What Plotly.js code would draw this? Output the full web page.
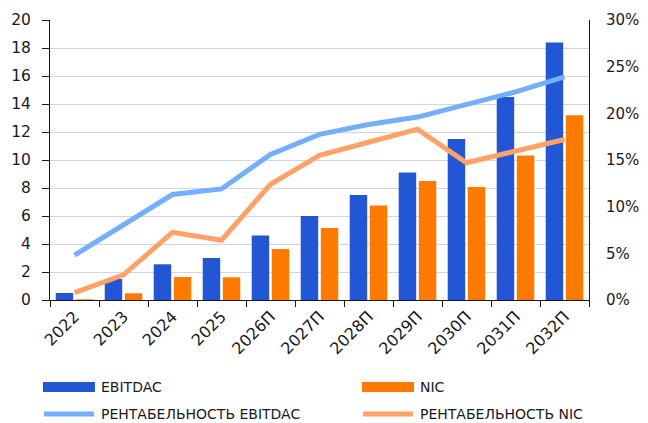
<!DOCTYPE html>
<html>
<head>
<meta charset="utf-8">
<script src="https://cdn.plot.ly/plotly-3.0.1.min.js"></script>
<style>
  html, body { margin: 0; padding: 0; background: #fff; }
  #chart { width: 648px; height: 423px; }
</style>
</head>
<body>
<div id="chart"></div>
<script>
// Years (П = прогноз)
const years = ['2022', '2023', '2024', '2025', '2026П', '2027П', '2028П', '2029П', '2030П', '2031П', '2032П'];

// EBITDAC and NIC, left axis
const ebitdac = [0.5, 1.5, 2.55, 3.0, 4.6, 6.0, 7.5, 9.1, 11.5, 14.5, 18.4];
const nic = [0.05, 0.48, 1.64, 1.62, 3.64, 5.15, 6.75, 8.5, 8.07, 10.33, 13.2];

// Margins, right axis (share)
const marginEbitdac = [0.048, 0.080, 0.113, 0.119, 0.156, 0.1775, 0.188, 0.196, 0.209, 0.223, 0.239];
const marginNic = [0.008, 0.027, 0.0725, 0.064, 0.124, 0.155, 0.169, 0.183, 0.147, 0.159, 0.172];

const legendLabels = ['EBITDAC', 'NIC', 'РЕНТАБЕЛЬНОСТЬ EBITDAC', 'РЕНТАБЕЛЬНОСТЬ NIC'];

const BLUE = '#2356D4';
const ORANGE = '#FF7A00';
const LIGHT_BLUE = '#72B0FF';
const LIGHT_ORANGE = '#FFA267';
const FONT = '"DejaVu Sans", sans-serif';
const INK = '#1a1a1a';

const traces = [
  { type: 'bar', name: legendLabels[0], x: years, y: ebitdac, marker: { color: BLUE }, yaxis: 'y' },
  { type: 'bar', name: legendLabels[1], x: years, y: nic, marker: { color: ORANGE }, yaxis: 'y' },
  { type: 'scatter', mode: 'lines', name: legendLabels[2], x: years, y: marginEbitdac, yaxis: 'y2',
    line: { color: LIGHT_BLUE, width: 5 } },
  { type: 'scatter', mode: 'lines', name: legendLabels[3], x: years, y: marginNic, yaxis: 'y2',
    line: { color: LIGHT_ORANGE, width: 5 } }
];

// Hand-placed legend in two columns, in paper coordinates
const plotL = 50, plotR = 589, plotT = 20, plotB = 300;
const px = v => (v - plotL) / (plotR - plotL);
const py = v => (plotB - v) / (plotB - plotT);

const legendItems = [
  { label: legendLabels[0], color: BLUE, kind: 'rect', x: 43, y: 387 },
  { label: legendLabels[1], color: ORANGE, kind: 'rect', x: 362, y: 387 },
  { label: legendLabels[2], color: LIGHT_BLUE, kind: 'line', x: 43, y: 414 },
  { label: legendLabels[3], color: LIGHT_ORANGE, kind: 'line', x: 362, y: 414 }
];

const shapes = [];
const annotations = [];
legendItems.forEach(it => {
  if (it.kind === 'rect') {
    shapes.push({ type: 'rect', xref: 'paper', yref: 'paper',
      x0: px(it.x), x1: px(it.x + 52), y0: py(it.y + 5), y1: py(it.y - 5),
      fillcolor: it.color, line: { width: 0 } });
  } else {
    shapes.push({ type: 'line', xref: 'paper', yref: 'paper',
      x0: px(it.x + 1), x1: px(it.x + 51), y0: py(it.y), y1: py(it.y),
      line: { color: it.color, width: 5 } });
  }
  annotations.push({ xref: 'paper', yref: 'paper', x: px(it.x + 56), y: py(it.y),
    xanchor: 'left', yanchor: 'middle', showarrow: false, text: it.label,
    font: { family: FONT, size: 14, color: INK } });
});

const layout = {
  width: 648,
  height: 423,
  margin: { l: plotL, r: 648 - plotR, t: plotT, b: 423 - plotB },
  paper_bgcolor: '#ffffff',
  plot_bgcolor: '#ffffff',
  showlegend: false,
  barmode: 'group',
  bargap: 0.18,
  bargroupgap: 0.13,
  font: { family: FONT, size: 15, color: INK },
  xaxis: {
    type: 'category',
    tickangle: -45,
    tickson: 'boundaries',
    ticks: 'outside',
    ticklen: 6,
    tickcolor: INK,
    showline: true,
    linecolor: INK,
    linewidth: 1,
    showgrid: false,
    tickfont: { family: FONT, size: 16, color: INK }
  },
  yaxis: {
    range: [0, 20],
    dtick: 2,
    ticks: 'outside',
    ticklen: 7,
    tickcolor: INK,
    showline: true,
    linecolor: INK,
    linewidth: 1,
    gridcolor: '#D3D6E2',
    gridwidth: 1,
    zeroline: false,
    ticklabelstandoff: 8,
    tickfont: { family: FONT, size: 15.5, color: INK }
  },
  yaxis2: {
    overlaying: 'y',
    side: 'right',
    range: [0, 0.3],
    dtick: 0.05,
    tickformat: '.0%',
    showgrid: false,
    zeroline: false,
    showline: true,
    linecolor: INK,
    linewidth: 1,
    ticks: '',
    ticklabelstandoff: 13,
    tickfont: { family: FONT, size: 15, color: INK }
  },
  shapes: shapes,
  annotations: annotations
};

Plotly.newPlot('chart', traces, layout, { displayModeBar: false, staticPlot: true });
</script>
</body>
</html>
